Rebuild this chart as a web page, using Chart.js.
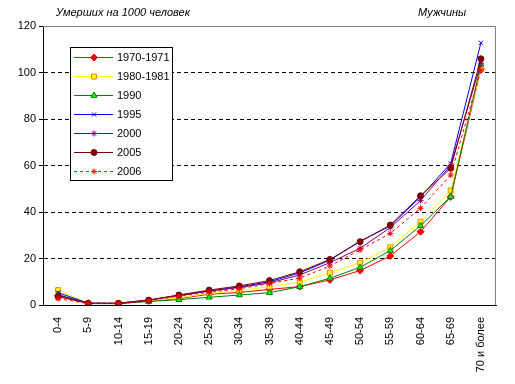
<!DOCTYPE html>
<html>
<head>
<meta charset="utf-8">
<script src="https://cdn.jsdelivr.net/npm/chart.js@4"></script>
<style>
  body { margin: 0; background: #fff; }
  #wrap { position: relative; width: 515px; height: 384px; }
  .cap { position: absolute; top: 6px; font: italic 11px "Liberation Sans", Arial, sans-serif; color: #000; }
</style>
</head>
<body>
<div id="wrap">
  <canvas id="mort" width="515" height="384"></canvas>
  <div class="cap" style="left:56px">Умерших на 1000 человек</div>
  <div class="cap" style="left:418px">Мужчины</div>
</div>
<script>
// возрастные группы
const ageGroups = ["0-4", "5-9", "10-14", "15-19", "20-24", "25-29", "30-34", "35-39",
  "40-44", "45-49", "50-54", "55-59", "60-64", "65-69", "70 и более"];

// умерших на 1000 человек, мужчины
const y1970 = [4.0, 0.8, 0.6, 1.7, 2.8, 4.6, 5.4, 6.7, 7.9, 10.8, 14.8, 21.1, 31.5, 46.5, 101.5];
const y1980 = [6.4, 0.7, 0.8, 1.8, 3.1, 5.0, 6.2, 7.9, 9.7, 13.9, 18.2, 24.8, 35.8, 49.2, 101.4];
const y1990 = [4.5, 0.6, 0.6, 1.5, 2.3, 3.3, 4.3, 5.3, 7.9, 11.5, 16.2, 23.4, 34.1, 46.6, 103.5];
const y1995 = [5.3, 0.8, 0.8, 2.2, 4.0, 6.0, 7.8, 10.0, 13.8, 19.3, 27.5, 34.0, 46.5, 60.9, 112.8];
const y2000 = [4.2, 0.7, 0.7, 2.0, 4.3, 6.0, 7.5, 9.5, 12.9, 18.2, 24.4, 33.3, 44.9, 60.0, 104.0];
const y2005 = [3.6, 0.7, 0.7, 2.1, 4.3, 6.4, 8.2, 10.5, 14.3, 19.6, 27.2, 34.4, 47.0, 58.8, 105.9];
const y2006 = [2.7, 0.6, 0.6, 1.9, 3.8, 5.5, 7.0, 9.2, 11.6, 16.8, 23.7, 30.8, 41.6, 55.9, 101.0];

const FONT = "'Liberation Sans', Arial, sans-serif";

function series(label, data, line, style, fill, border, radius, dash) {
  return {
    label: label,
    data: data,
    borderColor: line,
    borderWidth: 1,
    borderDash: dash || [],
    pointStyle: style,
    pointRadius: radius,
    pointBackgroundColor: fill,
    pointBorderColor: border,
    pointBorderWidth: 1,
    tension: 0,
    fill: false,
  };
}

const datasets = [
  series("1970-1971", y1970, "#ff0000", "rectRot", "#ff0000", "#ff0000", 3.5),
  series("1980-1981", y1980, "#ffff00", "rect", "#ffff00", "#ff8000", 3.5),
  series("1990", y1990, "#008000", "triangle", "#00ff00", "#008000", 3.5),
  series("1995", y1995, "#0000ff", "crossRot", "#0000ff", "#0000ff", 3),
  series("2000", y2000, "#800080", "star", "#800080", "#800080", 3),
  series("2005", y2005, "#800000", "circle", "#800000", "#800000", 3),
  series("2006", y2006, "#ff0000", "star", "#ff0000", "#ff0000", 3, [3, 3]),
];
// последние серии поверх первых, как в Excel
datasets.forEach((d, i) => { d.order = datasets.length - i; });

// рамка области построения и легенда в рамке
const frameAndLegend = {
  id: "frameAndLegend",
  beforeDraw(chart) {
    const c = chart.ctx;
    c.save();
    c.fillStyle = "#fff";
    c.fillRect(0, 0, chart.width, chart.height);
    c.restore();
  },
  afterDatasetsDraw(chart) {
    const c = chart.ctx;
    const a = chart.chartArea;
    c.save();
    c.strokeStyle = "#808080";
    c.lineWidth = 1;
    c.beginPath();
    c.moveTo(a.left, a.top + 0.5);
    c.lineTo(a.right - 0.5, a.top + 0.5);
    c.lineTo(a.right - 0.5, a.bottom);
    c.stroke();

    // легенда
    c.fillStyle = "#fff";
    c.fillRect(70.5, 47.5, 102, 133);
    c.strokeStyle = "#000";
    c.strokeRect(70.5, 47.5, 102, 133);
    c.font = "11px " + FONT;
    c.textBaseline = "middle";
    datasets.forEach((d, i) => {
      const y = 57 + i * 19;
      c.strokeStyle = d.borderColor;
      c.setLineDash(d.borderDash);
      c.beginPath();
      c.moveTo(74, y + 0.5);
      c.lineTo(113, y + 0.5);
      c.stroke();
      c.setLineDash([]);
      c.fillStyle = d.pointBackgroundColor;
      c.strokeStyle = d.pointBorderColor;
      Chart.helpers.drawPoint(c, { pointStyle: d.pointStyle, radius: d.pointRadius, borderWidth: 1, rotation: 0 }, 94, y + 0.5);
      c.fillStyle = "#000";
      c.fillText(d.label, 117, y + 1);
    });
    c.restore();
  },
};

new Chart(document.getElementById("mort").getContext("2d"), {
  type: "line",
  data: { labels: ageGroups, datasets: datasets },
  options: {
    responsive: false,
    animation: false,
    layout: { padding: { top: 26, right: 19, left: 0, bottom: 0 } },
    plugins: { legend: { display: false }, tooltip: { enabled: false } },
    scales: {
      x: {
        offset: true,
        grid: { display: false },
        border: { display: true, color: "#000", width: 1 },
        ticks: {
          color: "#000",
          font: { family: FONT, size: 11 },
          minRotation: 90,
          maxRotation: 90,
          autoSkip: false,
          padding: 4,
        },
        afterFit(s) { s.height = 79; },
      },
      y: {
        min: 0,
        max: 120,
        grid: {
          color: (ctx) => (ctx.tick && (ctx.tick.value === 0 || ctx.tick.value === 120)) ? "rgba(0,0,0,0)" : "#000",
          tickColor: "#000",
          tickLength: 4,
          lineWidth: 1,
        },
        border: { display: true, color: "#000", width: 1, dash: [4, 3] },
        ticks: {
          stepSize: 20,
          color: "#000",
          font: { family: FONT, size: 11 },
          padding: 3,
        },
        afterFit(s) { s.width = 43; },
      },
    },
  },
  plugins: [frameAndLegend],
});
</script>
</body>
</html>
